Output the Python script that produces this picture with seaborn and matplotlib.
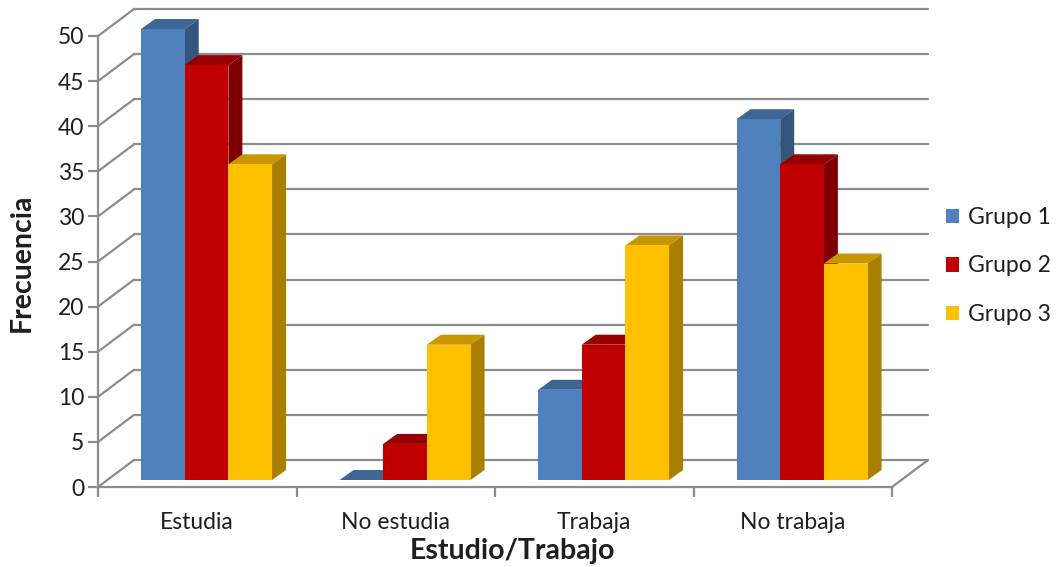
import numpy as np
import pandas as pd
import matplotlib
matplotlib.use("Agg")
import matplotlib.pyplot as plt
from matplotlib.patches import Polygon, Patch
from matplotlib.lines import Line2D
import matplotlib.colors as mcolors
import seaborn as sns

# ---- data -------------------------------------------------------------
categorias = ["Estudia", "No estudia", "Trabaja", "No trabaja"]
grupos = ["Grupo 1", "Grupo 2", "Grupo 3"]
grupo1 = [50, 0, 10, 40]
grupo2 = [46, 4, 15, 35]
grupo3 = [35, 15, 26, 24]
yticks = [0, 5, 10, 15, 20, 25, 30, 35, 40, 45, 50]

colores = ["#4F81BD", "#C00000", "#FFC000"]

df = pd.DataFrame({
    "Estudio/Trabajo": categorias * 3,
    "Frecuencia": grupo1 + grupo2 + grupo3,
    "Grupo": [g for g in grupos for _ in categorias],
})

# ---- style ------------------------------------------------------------
sns.set_style("white")
plt.rcParams["font.family"] = ["Lato", "DejaVu Sans"]
GRID = "#8C8C8C"
TXT = "#1E1E1E"

W, H, DPI = 1062, 567, 100
fig = plt.figure(figsize=(W / DPI, H / DPI), dpi=DPI)
# front plane of the plot box (pixels from top-left)
L, R, T, B = 98, 892, 36, 487
ax = fig.add_axes([L / W, 1 - B / H, (R - L) / W, (B - T) / H])

sns.barplot(data=df, x="Estudio/Trabajo", y="Frecuencia", hue="Grupo",
            order=categorias, hue_order=grupos, palette=colores,
            width=0.66, gap=0, saturation=1, legend=False, ax=ax,
            edgecolor="none", linewidth=0, zorder=3)

ax.set_xlim(-0.5, 3.5)
ax.set_ylim(0, 50)

# pixel offsets (display units, y up)
WALL = (36, 27)       # depth of the back wall
BAR_PLANE = (9.3, 7)  # bars sit slightly behind the front plane
BAR_DEPTH = (14, 10)  # depth of each bar


def to_disp(x, y):
    return ax.transData.transform((x, y))


def to_data(px, py):
    return ax.transData.inverted().transform((px, py))


def shifted(x, y, off):
    px, py = to_disp(x, y)
    return to_data(px + off[0], py + off[1])


# back wall gridlines and left wall diagonals
for v in yticks:
    a = shifted(-0.5, v, WALL)
    b = shifted(3.5, v, WALL)
    ax.add_line(Line2D([a[0], b[0]], [a[1], b[1]], color=GRID, lw=1.6,
                       zorder=0.5, clip_on=False))
    ax.add_line(Line2D([-0.5, a[0]], [v, a[1]], color=GRID, lw=1.6,
                       zorder=0.5, clip_on=False))
# right edge of the floor
c = shifted(3.5, 0, WALL)
ax.add_line(Line2D([3.5, c[0]], [0, c[1]], color=GRID, lw=1.6,
                   zorder=0.5, clip_on=False))


def shade(col, f):
    r, g, b = mcolors.to_rgb(col)
    return (r * f, g * f, b * f)


# move bars into their plane and add top / side faces
for p in list(ax.patches):
    x0, y0 = p.get_x(), p.get_y()
    w, h = p.get_width(), p.get_height()
    nx, ny = shifted(x0, y0, BAR_PLANE)
    p.set_x(nx)
    p.set_y(ny)
    p.set_zorder(3)
    p.set_clip_on(False)
    col = p.get_facecolor()
    fl = (nx, ny + h)
    fr = (nx + w, ny + h)
    br_bot = (nx + w, ny)
    bfl = shifted(*fl, BAR_DEPTH)
    bfr = shifted(*fr, BAR_DEPTH)
    bbr = shifted(*br_bot, BAR_DEPTH)
    top = Polygon([fl, fr, bfr, bfl], closed=True, facecolor=shade(col, 0.78),
                  edgecolor="none", zorder=2, clip_on=False)
    side = Polygon([br_bot, fr, bfr, bbr], closed=True,
                   facecolor=shade(col, 0.66), edgecolor="none", zorder=2,
                   clip_on=False)
    ax.add_patch(top)
    ax.add_patch(side)

# axes, ticks and labels
for s in ["top", "right"]:
    ax.spines[s].set_visible(False)
for s in ["left", "bottom"]:
    ax.spines[s].set_color(GRID)
    ax.spines[s].set_linewidth(1.6)
    ax.spines[s].set_zorder(1)

ax.set_yticks(yticks)
ax.tick_params(axis="y", length=7, width=1.6, color=GRID, direction="out",
               labelsize=16.5, labelcolor=TXT, pad=3, left=True)

ax.set_xticks([-0.5, 0.5, 1.5, 2.5, 3.5])
ax.set_xticklabels([])
ax.set_xticks(range(len(categorias)), minor=True)
ax.set_xticklabels(categorias, minor=True)
ax.tick_params(axis="x", which="major", length=7, width=1.6, color=GRID,
               direction="out", bottom=True)
ax.tick_params(axis="x", which="minor", length=0, labelsize=16.5,
               labelcolor=TXT, pad=18)

ax.set_ylabel("Frecuencia", fontsize=20.5, fontweight="bold", color=TXT,
              va="center")
ax.yaxis.set_label_coords((22 - L) / (R - L), (B - 263) / (B - T))
ax.set_xlabel("Estudio/Trabajo", fontsize=20.5, fontweight="bold", color=TXT)
ax.xaxis.set_label_coords((512 - L) / (R - L), -(551 - B) / (B - T))
ax.xaxis.label.set_va("center")

handles = [Patch(facecolor=c_, edgecolor="none") for c_ in colores]
fig.legend(handles, grupos, loc="center left",
           bbox_to_anchor=(946 / W, 1 - 266 / H), frameon=False,
           fontsize=16.5, handlelength=0.58, handleheight=0.58,
           handletextpad=0.4, labelspacing=1.2, borderpad=0,
           borderaxespad=0, labelcolor=TXT)

fig.savefig("out.png", dpi=DPI, facecolor="white")
